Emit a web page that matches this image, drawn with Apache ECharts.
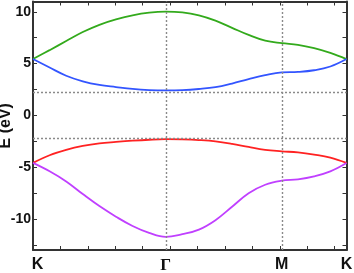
<!DOCTYPE html>
<html>
<head>
<meta charset="utf-8">
<script src="https://cdn.jsdelivr.net/npm/echarts@6/dist/echarts.min.js"></script>
<style>html,body{margin:0;padding:0;background:#fff}#c{width:354px;height:273px}</style>
</head>
<body>
<div id="c"></div>
<script>
// k-path coordinate (arbitrary units, 1 unit = one minor x tick)
const kPath = [0, 0.605, 1.21, 1.815, 2.42, 3.025, 3.63, 4.235, 4.84,
               5.444, 6.049, 6.653, 7.257, 7.861, 8.466, 9.07,
               9.66, 10.25, 10.84, 11.43];
const bandGreen  = [5.44, 6.30, 7.18, 8.05, 8.75, 9.27, 9.67, 9.93, 10.03,
                    9.95, 9.66, 9.15, 8.46, 7.77, 7.22, 6.98,
                    6.82, 6.50, 6.04, 5.44];
const bandBlue   = [5.44, 4.62, 3.83, 3.29, 2.94, 2.74, 2.56, 2.45, 2.41,
                    2.44, 2.55, 2.73, 3.08, 3.50, 3.88, 4.15,
                    4.20, 4.36, 4.72, 5.44];
const bandRed    = [-4.59, -3.85, -3.33, -2.95, -2.70, -2.56, -2.44, -2.35, -2.30,
                    -2.32, -2.38, -2.50, -2.74, -3.05, -3.33, -3.47,
                    -3.58, -3.79, -4.08, -4.59];
const bandPurple = [-4.59, -5.40, -6.38, -7.60, -8.76, -9.78, -10.68, -11.35, -11.73,
                    -11.47, -11.03, -10.12, -8.83, -7.52, -6.70, -6.31,
                    -6.17, -5.88, -5.40, -4.59];
const kLabels = ['K', 'Γ', 'M', 'K'];
const kLabelPos = [0, 4.84, 9.07, 11.43];
const xMinorTicks = [1, 2, 3, 4, 5, 6, 7, 8, 9, 10, 11];
const yTicks = [-12.5, -10, -7.5, -5, -2.5, 0, 2.5, 5, 7.5, 10];
const yLabels = [-10, -5, 0, 5, 10];
const gapLines = [2.28, -2.25];
const yMin = -13, yMax = 11;

const chart = echarts.init(document.getElementById('c'), null, {renderer: 'canvas'});
const pairs = arr => kPath.map((k, i) => [k, arr[i]]);
const axisLine = {show: true, onZero: false, lineStyle: {color: '#333', width: 2}};
const band = (data, color) => ({
  type: 'line', data: pairs(data), showSymbol: false, smooth: 0.4,
  lineStyle: {color: color, width: 1.8}, z: 3, silent: true
});

chart.setOption({
  animation: false,
  grid: {left: 33, top: 1.5, right: 7.5, bottom: 23, containLabel: false, outerBoundsMode: 'none'},
  xAxis: [{
    type: 'value', min: 0, max: kLabelPos[3], position: 'bottom',
    axisLine: axisLine, splitLine: {show: false},
    axisTick: {show: true, inside: true, length: 4, customValues: xMinorTicks, lineStyle: {color: '#333', width: 1}},
    axisLabel: {
      show: true, customValues: kLabelPos, margin: 7, hideOverlap: false,
      formatter: function (v) {
        let idx = kLabelPos.findIndex(p => Math.abs(p - v) < 1e-6);
        if (idx < 0) return '';
        if (idx === 0) return '{k0|' + kLabels[0] + '}';
        if (kLabels[idx] === 'Γ') return '{g|' + kLabels[idx] + '}';
        return '{k|' + kLabels[idx] + '}';
      },
      rich: {
        k: {fontFamily: 'Liberation Sans', fontWeight: 'bold', fontSize: 16, color: '#111'},
        k0: {fontFamily: 'Liberation Sans', fontWeight: 'bold', fontSize: 16, color: '#111', padding: [0, 0, 0, 9]},
        g: {fontFamily: 'Liberation Serif', fontWeight: 'bold', fontSize: 17, color: '#111'}
      }
    }
  }, {
    type: 'value', min: 0, max: kLabelPos[3], position: 'top',
    axisLine: axisLine, splitLine: {show: false},
    axisTick: {show: true, inside: true, length: 4, customValues: xMinorTicks, lineStyle: {color: '#333', width: 1}},
    axisLabel: {show: false}
  }],
  yAxis: [{
    type: 'value', min: yMin, max: yMax, position: 'left',
    name: 'E (eV)', nameLocation: 'middle', nameGap: 19, nameMoveOverlap: false,
    nameTextStyle: {fontFamily: 'Liberation Sans', fontWeight: 'bold', fontSize: 16, color: '#111'},
    axisLine: axisLine, splitLine: {show: false},
    axisTick: {show: true, inside: true, length: 4, customValues: yTicks, lineStyle: {color: '#333', width: 1}},
    axisLabel: {show: true, customValues: yLabels, margin: 2, fontFamily: 'Liberation Sans', fontWeight: 'bold', fontSize: 14, color: '#111'}
  }, {
    type: 'value', min: yMin, max: yMax, position: 'right',
    axisLine: axisLine, splitLine: {show: false},
    axisTick: {show: true, inside: true, length: 4, customValues: yTicks, lineStyle: {color: '#333', width: 1}},
    axisLabel: {show: false}
  }],
  series: [
    {
      type: 'line', data: [], z: 1, silent: true,
      markLine: {
        silent: true, symbol: 'none', animation: false,
        label: {show: false},
        lineStyle: {color: '#8a8a8a', type: [2, 2], width: 1.4},
        data: [{xAxis: kLabelPos[1]}, {xAxis: kLabelPos[2]}].concat(gapLines.map(v => ({yAxis: v})))
      }
    },
    band(bandGreen, '#33aa1c'),
    band(bandBlue, '#3355ff'),
    band(bandRed, '#ff2222'),
    band(bandPurple, '#c040ff')
  ]
});
</script>
</body>
</html>
